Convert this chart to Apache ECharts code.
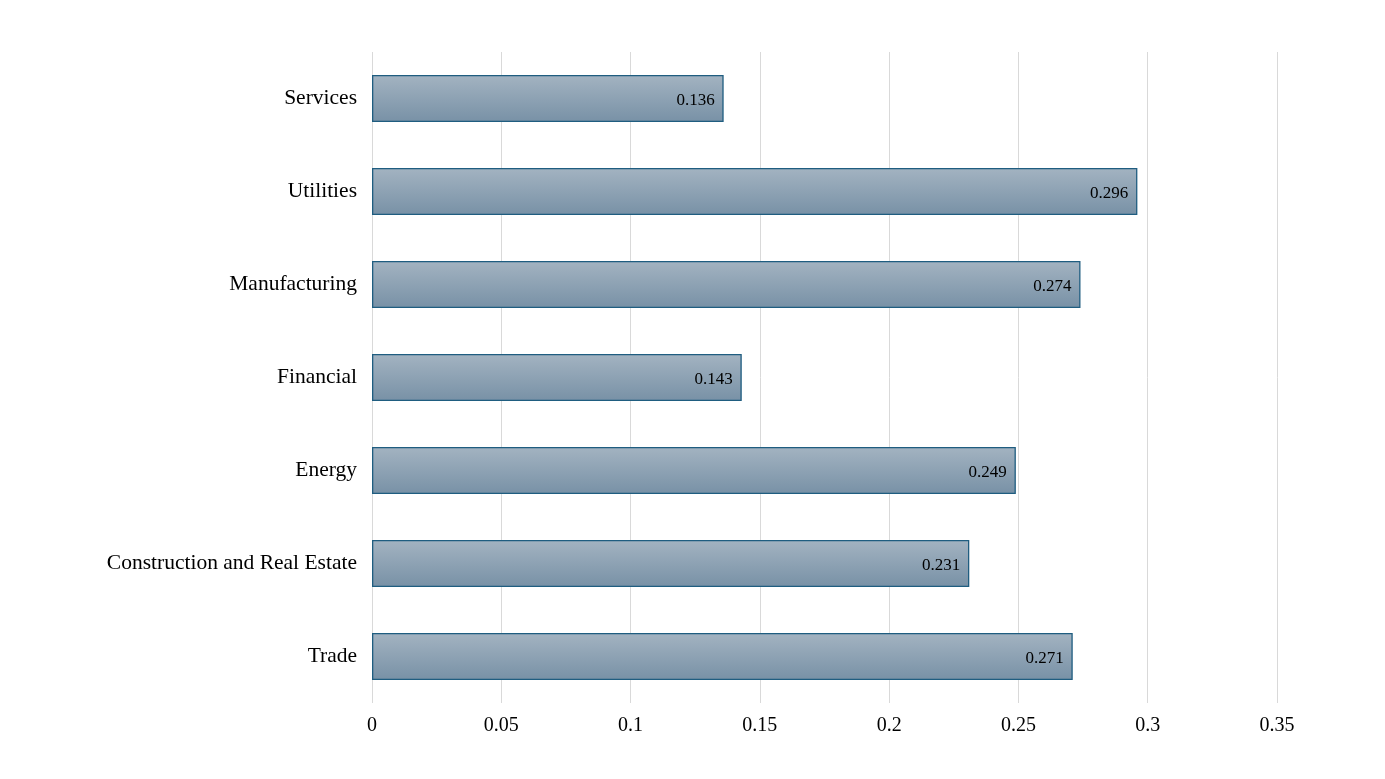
<!DOCTYPE html>
<html>
<head>
<meta charset="utf-8">
<script src="https://cdn.jsdelivr.net/npm/echarts@6/dist/echarts.min.js"></script>
<style>
html,body{margin:0;padding:0;background:#fff;}
#chart{width:1385px;height:779px;}
</style>
</head>
<body>
<div id="chart"></div>
<script>
const categories = ["Trade", "Construction and Real Estate", "Energy", "Financial", "Manufacturing", "Utilities", "Services"];
const values = [0.271, 0.231, 0.249, 0.143, 0.274, 0.296, 0.136];
const xTicks = [0, 0.05, 0.1, 0.15, 0.2, 0.25, 0.3, 0.35];

const chart = echarts.init(document.getElementById('chart'));
const font = '"Liberation Serif", "DejaVu Serif", serif';
chart.setOption({
  backgroundColor: '#ffffff',
  animation: false,
  grid: { left: 372, right: 108, top: 52, bottom: 76, containLabel: false },
  xAxis: {
    type: 'value',
    min: xTicks[0],
    max: xTicks[xTicks.length - 1],
    interval: 0.05,
    axisLine: { show: false },
    axisTick: { show: false },
    splitLine: { show: true, lineStyle: { color: '#d9d9d9', width: 1 } },
    axisLabel: {
      color: '#000', fontFamily: font, fontSize: 20, margin: 13,
      formatter: function (v) { return String(parseFloat(v.toFixed(2))); }
    }
  },
  yAxis: {
    type: 'category',
    data: categories,
    axisLine: { show: false },
    axisTick: { show: false },
    splitLine: { show: false },
    axisLabel: { color: '#000', fontFamily: font, fontSize: 21.5, margin: 15 }
  },
  series: [{
    type: 'bar',
    data: values,
    barWidth: '50.5%',
    itemStyle: {
      color: new echarts.graphic.LinearGradient(0, 0, 0, 1, [
        { offset: 0, color: '#a3b3c1' },
        { offset: 1, color: '#7891a6' }
      ]),
      borderColor: '#1f5d80',
      borderWidth: 1.3
    },
    label: {
      show: true,
      position: 'insideRight',
      distance: 9,
      offset: [0, 2],
      color: '#000',
      fontFamily: font,
      fontSize: 17,
      formatter: function (p) { return p.value.toFixed(3); }
    }
  }]
});
</script>
</body>
</html>
